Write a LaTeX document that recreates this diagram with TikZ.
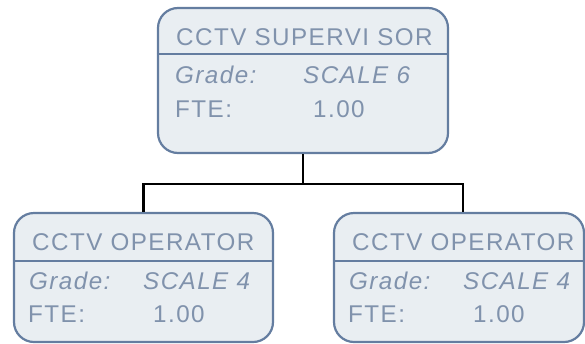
\documentclass[tikz,border=0pt]{standalone}
\usepackage{fontspec}
\setmainfont{Liberation Sans}[LetterSpace=6.0]
\usetikzlibrary{positioning}

\definecolor{postborder}{RGB}{100,125,160}
\definecolor{postfill}{RGB}{233,238,242}
\definecolor{posttext}{RGB}{128,146,172}

\begin{document}
\begin{tikzpicture}[
    x=1pt,
    y=-1pt,
    post/.style={
        rectangle,
        rounded corners=20pt,
        draw=postborder,
        fill=postfill,
        line width=2.2pt
    },
    divider/.style={
        draw=postborder,
        line width=2.2pt
    },
    label/.style={
        anchor=base west,
        inner sep=0pt,
        text=posttext,
        font=\fontsize{24.2}{28}\selectfont
    },
    value/.style={
        label,
        font=\fontsize{24.2}{28}\selectfont\itshape
    },
    link/.style={
        line width=2.2pt,
        black
    }
]

\useasboundingbox (0,0) rectangle (585,343);

% posts

\node[post, minimum width=290pt, minimum height=145pt]
    (supervisor) at (303,80.5) {};

\node[post, minimum width=259pt, minimum height=129pt]
    (operatorA) at (143.5,277.5) {};

\node[post, minimum width=250pt, minimum height=129pt]
    (operatorB) at (459,277.5) {};

% dividers under the titles

\draw[divider] (supervisor.west |- 0,54) -- (supervisor.east |- 0,54);
\draw[divider] (operatorA.west |- 0,261) -- (operatorA.east |- 0,261);
\draw[divider] (operatorB.west |- 0,261) -- (operatorB.east |- 0,261);

% supervisor text

\node[label] (supTitle) at (176,45) {CCTV SUPERVI SOR};
\node[value] (supGrade) at (175,83) {Grade:};
\node[value] (supScale) at (303,83) {SCALE 6};
\node[label] (supFte) at (175,117) {FTE:};
\node[label] (supFteVal) at (313,117) {1.00};

% operator text, left

\node[label] (opATitle) at (32,250) {CCTV OPERATOR};
\node[value] (opAGrade) at (29,289) {Grade:};
\node[value] (opAScale) at (143,289) {SCALE 4};
\node[label] (opAFte) at (28,322) {FTE:};
\node[label] (opAFteVal) at (153,322) {1.00};

% operator text, right

\node[label] (opBTitle) at (352,250) {CCTV OPERATOR};
\node[value] (opBGrade) at (349,289) {Grade:};
\node[value] (opBScale) at (463,289) {SCALE 4};
\node[label] (opBFte) at (348,322) {FTE:};
\node[label] (opBFteVal) at (473,322) {1.00};

% reporting lines

\draw[link]
    (supervisor.south) -- ++(0,30)
    -| (operatorA.north);

\draw[link]
    (supervisor.south) -- ++(0,30)
    -| ([xshift=4pt]operatorB.north);

\end{tikzpicture}
\end{document}
